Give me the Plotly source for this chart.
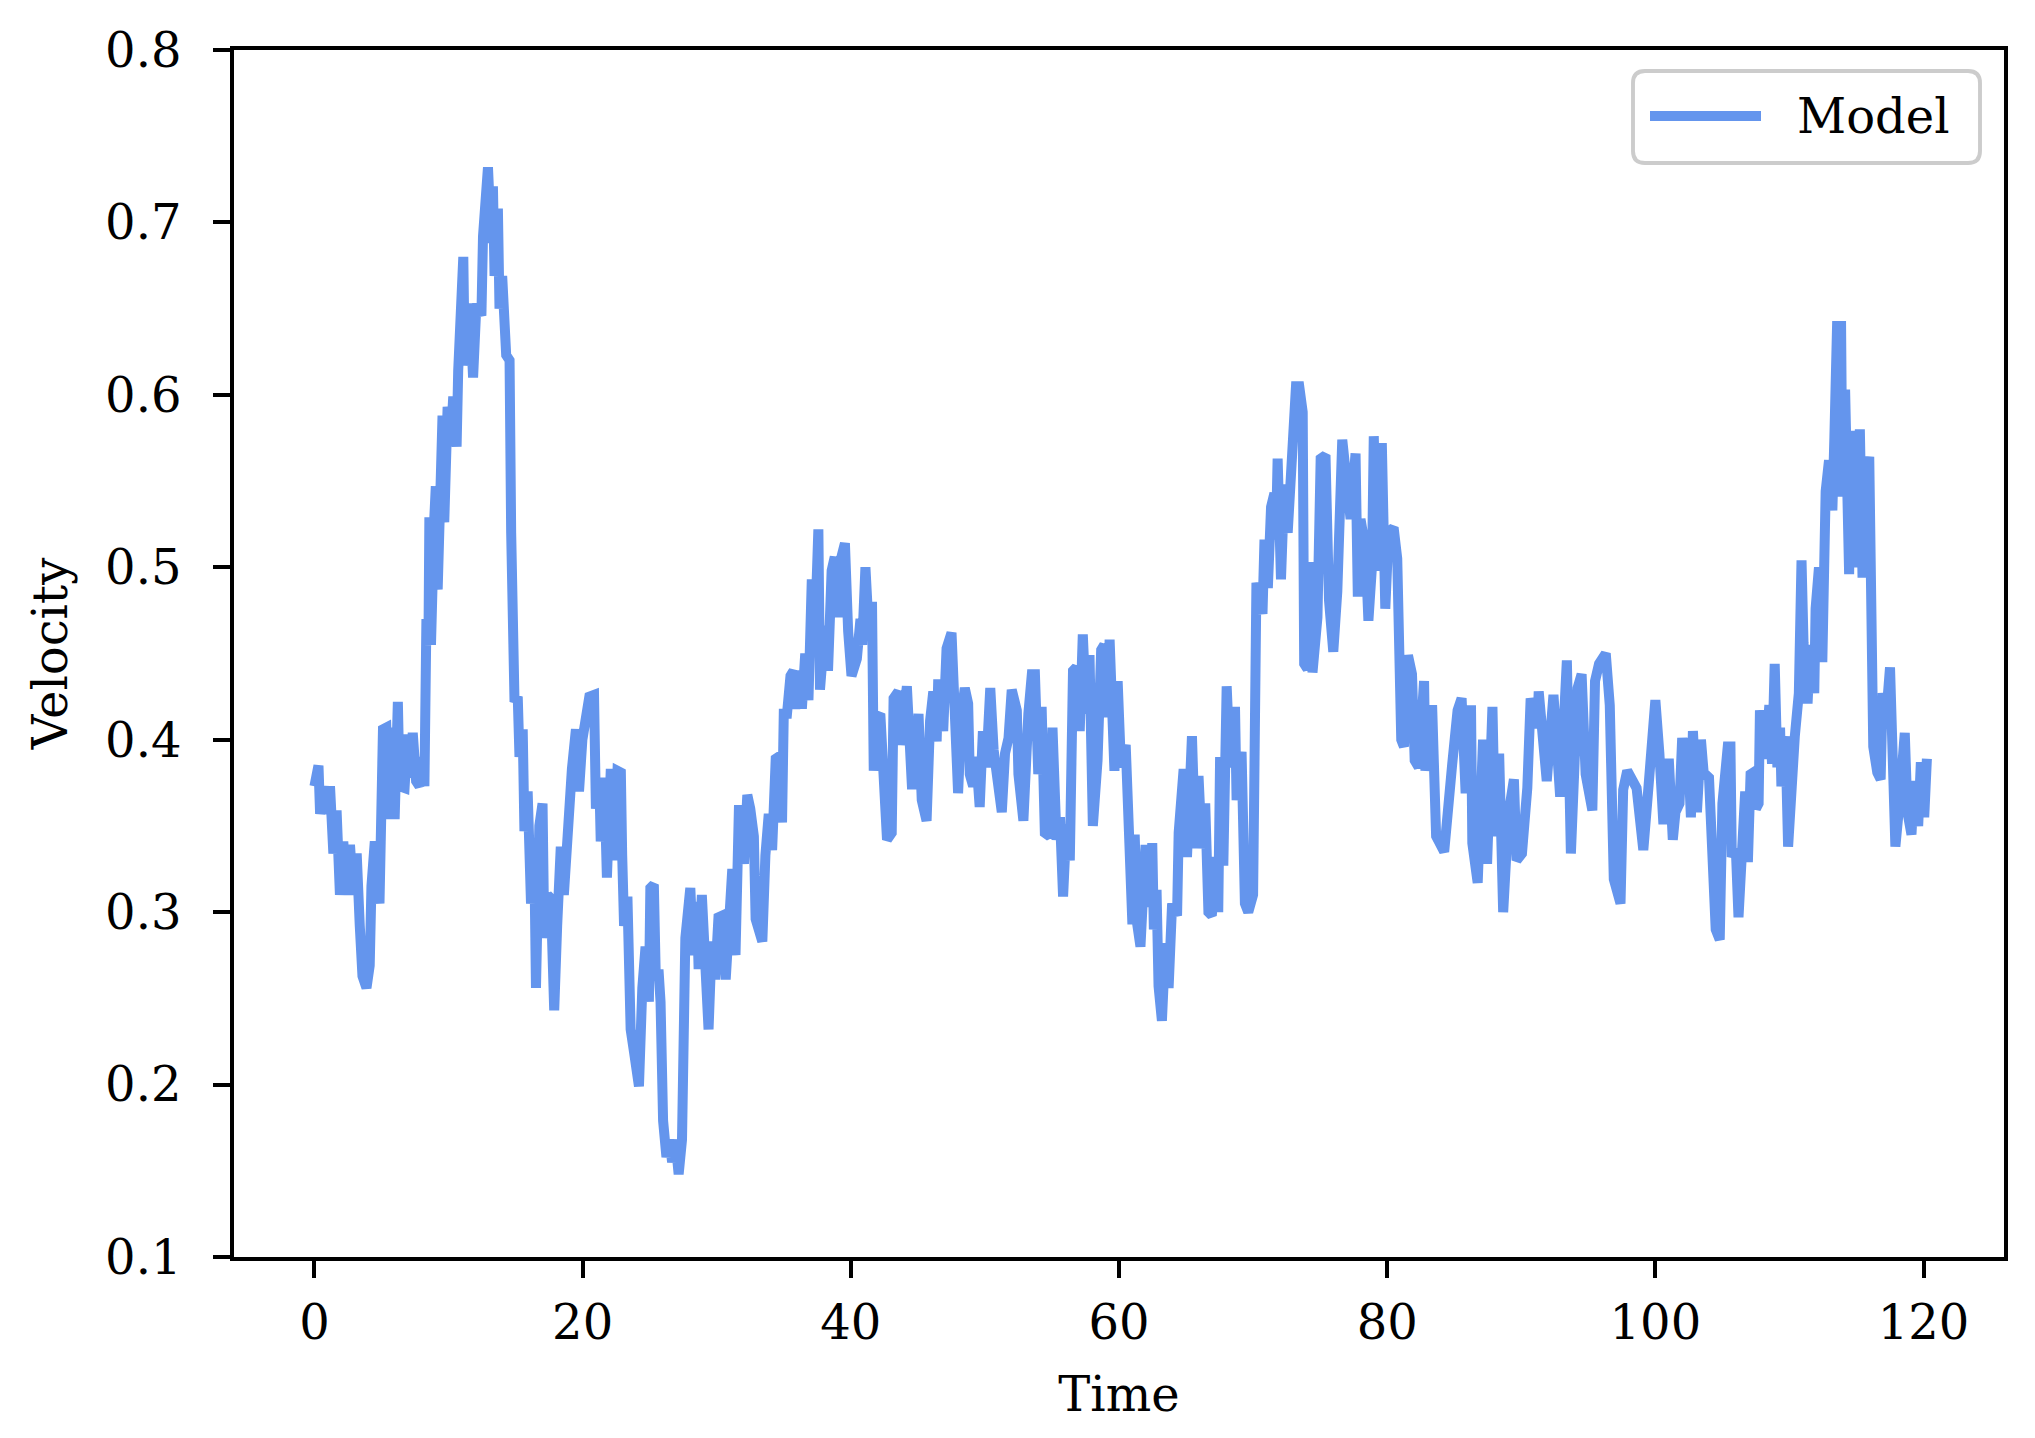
import plotly.graph_objects as go

# ---- data ----
time = [
    0, 0.3, 0.42, 0.79, 0.91, 1.16, 1.41, 1.65, 1.9, 2.15, 2.4, 2.65, 2.89, 3.15, 3.38, 3.58, 3.88, 4.12, 4.25, 4.5,
    4.85, 5.11, 5.36, 5.61, 5.85, 5.98, 6.22, 6.35, 6.72, 6.95, 7.09, 7.33, 7.58, 7.83, 8.07, 8.2, 8.35, 8.5, 8.57, 8.69,
    8.94, 9.05, 9.19, 9.31, 9.55, 9.68, 9.93, 10.2, 10.35, 10.6, 10.72, 11.1, 11.21, 11.58, 11.83, 12.08, 12.45, 12.57, 12.7, 12.94,
    13.19, 13.31, 13.43, 13.68, 13.8, 14.0, 14.3, 14.55, 14.67, 14.92, 15.16, 15.29, 15.53, 15.66, 15.9, 16.15, 16.4, 16.52, 16.77, 17.01,
    17.14, 17.38, 17.63, 17.88, 18.1, 18.37, 18.6, 18.87, 19.2, 19.5, 19.73, 19.98, 20.5, 20.85, 20.99, 21.24, 21.35, 21.61, 21.81, 22.1,
    22.35, 22.6, 22.85, 22.95, 23.09, 23.34, 23.58, 23.83, 24.2, 24.45, 24.69, 24.94, 25.05, 25.31, 25.45, 25.68, 25.81, 26.0, 26.25, 26.5,
    26.67, 26.92, 27.16, 27.41, 27.66, 28.03, 28.25, 28.52, 28.65, 28.89, 29.15, 29.39, 29.63, 29.88, 30.13, 30.42, 30.67, 30.92, 31.16, 31.4,
    31.66, 32.03, 32.28, 32.5, 32.77, 32.9, 33.4, 33.63, 33.88, 34.13, 34.4, 34.6, 34.87, 35.0, 35.24, 35.5, 35.73, 35.86, 36.23, 36.35,
    36.6, 36.84, 36.97, 37.09, 37.34, 37.58, 37.7, 38.08, 38.3, 38.57, 38.8, 39.07, 39.2, 39.56, 39.8, 40.05, 40.45, 40.72, 40.85, 41.09,
    41.34, 41.58, 41.71, 41.95, 42.2, 42.45, 42.7, 43.05, 43.19, 43.55, 43.68, 44.18, 44.55, 44.75, 45.05, 45.29, 45.65, 45.91, 46.15, 46.4,
    46.52, 46.89, 47.14, 47.51, 47.75, 48.0, 48.25, 48.5, 48.75, 48.87, 49.12, 49.35, 49.61, 49.85, 50.1, 50.4, 50.65, 50.9, 51.26, 51.5,
    51.76, 52.0, 52.38, 52.5, 52.87, 53.24, 53.5, 53.73, 53.98, 54.23, 54.47, 54.84, 55.04, 55.34, 55.6, 55.83, 56.08, 56.33, 56.57, 56.82,
    57.07, 57.3, 57.56, 57.8, 58.05, 58.4, 58.67, 58.9, 59.17, 59.3, 59.66, 59.9, 60.15, 60.5, 60.75, 61.0, 61.17, 61.36, 61.6, 61.98,
    62.23, 62.48, 62.6, 62.8, 62.95, 63.2, 63.46, 63.7, 63.96, 64.33, 64.45, 64.82, 65.07, 65.44, 65.7, 65.93, 66.18, 66.43, 66.67, 66.92,
    67.29, 67.4, 67.54, 67.78, 68.03, 68.28, 68.65, 68.77, 69.14, 69.39, 69.64, 70.0, 70.25, 70.7, 70.85, 71.1, 71.34, 71.59, 71.7, 71.83,
    72.08, 72.33, 72.58, 72.8, 72.95, 73.2, 73.44, 73.7, 73.81, 74.06, 74.3, 74.43, 74.8, 75.04, 75.4, 75.66, 75.98, 76.28, 76.65, 77.02,
    77.27, 77.64, 77.81, 78.01, 78.38, 78.6, 78.87, 79.0, 79.24, 79.6, 79.86, 80.1, 80.48, 80.75, 81.05, 81.25, 81.55, 81.85, 82.05, 82.35,
    82.75, 82.85, 83.35, 83.65, 83.95, 84.25, 84.85, 85.25, 85.55, 85.85, 86.25, 86.35, 86.75, 87.15, 87.45, 87.85, 88.05, 88.35, 88.65, 89.05,
    89.45, 89.65, 90.05, 90.45, 90.7, 91.2, 91.3, 91.9, 92.4, 92.9, 93.4, 93.7, 94.2, 94.5, 94.8, 95.3, 95.5, 95.8, 96.3, 96.6,
    96.9, 97.4, 97.6, 97.9, 98.6, 99.1, 99.5, 100.0, 100.3, 100.6, 101.0, 101.3, 101.5, 101.8, 102.0, 102.3, 102.4, 102.65, 102.8, 103.1,
    103.4, 103.6, 104.0, 104.3, 104.5, 104.8, 105.0, 105.4, 105.6, 105.7, 106.0, 106.2, 106.5, 106.7, 106.9, 107.1, 107.3, 107.5, 107.7, 107.8,
    108.2, 108.5, 108.7, 108.9, 109.1, 109.3, 109.4, 109.7, 109.9, 110.2, 110.4, 110.7, 110.9, 111.05, 111.35, 111.55, 111.85, 111.95, 112.2, 112.45,
    112.7, 112.95, 113.2, 113.35, 113.55, 113.85, 113.95, 114.15, 114.45, 114.55, 114.85, 115.05, 115.25, 115.45, 115.65, 115.95, 116.05, 116.25, 116.55, 116.8,
    116.95, 117.2, 117.5, 117.7, 117.9, 118.2, 118.6, 118.8, 119.1, 119.3, 119.6, 119.8, 120.05, 120.25,
]

velocity = [
    0.373, 0.385, 0.357, 0.373, 0.357, 0.373, 0.334, 0.359, 0.31, 0.341, 0.31, 0.339, 0.31, 0.334, 0.292, 0.263, 0.256, 0.269, 0.315, 0.341,
    0.305, 0.406, 0.407, 0.354, 0.407, 0.354, 0.422, 0.373, 0.372, 0.403, 0.378, 0.404, 0.376, 0.373, 0.39, 0.373, 0.47, 0.455, 0.529, 0.455,
    0.529, 0.547, 0.487, 0.549, 0.588, 0.526, 0.593, 0.578, 0.599, 0.57, 0.614, 0.68, 0.617, 0.653, 0.61, 0.653, 0.646, 0.692, 0.715, 0.732,
    0.688, 0.721, 0.669, 0.708, 0.65, 0.669, 0.623, 0.62, 0.52, 0.422, 0.425, 0.39, 0.406, 0.347, 0.37, 0.305, 0.329, 0.256, 0.35, 0.363,
    0.285, 0.31, 0.308, 0.243, 0.292, 0.338, 0.31, 0.357, 0.383, 0.406, 0.37, 0.40, 0.425, 0.426, 0.36, 0.378, 0.341, 0.378, 0.32, 0.383,
    0.33, 0.382, 0.381, 0.333, 0.292, 0.309, 0.232, 0.219, 0.199, 0.256, 0.28, 0.248, 0.314, 0.316, 0.264, 0.264, 0.248, 0.179, 0.158, 0.168,
    0.155, 0.168, 0.148, 0.168, 0.285, 0.314, 0.275, 0.306, 0.267, 0.31, 0.253, 0.232, 0.283, 0.261, 0.297, 0.298, 0.261, 0.306, 0.325, 0.275,
    0.362, 0.328, 0.368, 0.36, 0.344, 0.296, 0.283, 0.333, 0.357, 0.336, 0.389, 0.39, 0.352, 0.415, 0.415, 0.437, 0.44, 0.418, 0.44, 0.418,
    0.45, 0.423, 0.469, 0.493, 0.466, 0.522, 0.429, 0.466, 0.44, 0.498, 0.506, 0.471, 0.503, 0.514, 0.463, 0.437, 0.447, 0.47, 0.455, 0.5,
    0.463, 0.48, 0.382, 0.413, 0.415, 0.386, 0.342, 0.346, 0.424, 0.428, 0.397, 0.431, 0.374, 0.374, 0.415, 0.365, 0.353, 0.411, 0.428, 0.399,
    0.435, 0.405, 0.453, 0.462, 0.415, 0.369, 0.415, 0.43, 0.421, 0.38, 0.373, 0.39, 0.361, 0.405, 0.384, 0.43, 0.394, 0.38, 0.358, 0.392,
    0.401, 0.429, 0.417, 0.38, 0.353, 0.415, 0.438, 0.438, 0.38, 0.419, 0.346, 0.344, 0.407, 0.342, 0.355, 0.309, 0.351, 0.33, 0.44, 0.442,
    0.405, 0.461, 0.415, 0.449, 0.35, 0.388, 0.452, 0.455, 0.413, 0.458, 0.382, 0.434, 0.384, 0.397, 0.32, 0.293, 0.345, 0.293, 0.28, 0.339,
    0.303, 0.34, 0.29, 0.313, 0.257, 0.237, 0.282, 0.256, 0.305, 0.298, 0.346, 0.383, 0.332, 0.402, 0.337, 0.379, 0.337, 0.363, 0.30, 0.298,
    0.332, 0.30, 0.39, 0.327, 0.431, 0.384, 0.419, 0.365, 0.393, 0.305, 0.30, 0.31, 0.491, 0.473, 0.516, 0.488, 0.535, 0.543, 0.516, 0.563,
    0.493, 0.548, 0.52, 0.548, 0.577, 0.605, 0.605, 0.59, 0.444, 0.441, 0.503, 0.439, 0.471, 0.563, 0.565, 0.481, 0.451, 0.486, 0.574, 0.535,
    0.528, 0.566, 0.483, 0.528, 0.511, 0.469, 0.501, 0.576, 0.498, 0.572, 0.476, 0.52, 0.523, 0.505, 0.40, 0.396, 0.449, 0.438, 0.388, 0.384,
    0.434, 0.382, 0.42, 0.344, 0.338, 0.335, 0.386, 0.417, 0.424, 0.369, 0.42, 0.34, 0.317, 0.40, 0.328, 0.419, 0.344, 0.392, 0.30, 0.357,
    0.377, 0.33, 0.334, 0.372, 0.424, 0.407, 0.428, 0.376, 0.426, 0.367, 0.446, 0.334, 0.43, 0.438, 0.38, 0.359, 0.434, 0.444, 0.45, 0.42,
    0.319, 0.305, 0.371, 0.382, 0.372, 0.336, 0.374, 0.423, 0.392, 0.351, 0.389, 0.342, 0.358, 0.363, 0.401, 0.370, 0.401, 0.355, 0.405, 0.358,
    0.40, 0.381, 0.378, 0.306, 0.29, 0.284, 0.363, 0.396, 0.396, 0.332, 0.337, 0.297, 0.35, 0.37, 0.329, 0.38, 0.381, 0.36, 0.363, 0.417,
    0.389, 0.42, 0.386, 0.444, 0.384, 0.407, 0.373, 0.402, 0.338, 0.384, 0.402, 0.427, 0.504, 0.456, 0.421, 0.455, 0.427, 0.476, 0.50, 0.445,
    0.544, 0.562, 0.533, 0.575, 0.64, 0.64, 0.541, 0.603, 0.496, 0.562, 0.579, 0.50, 0.58, 0.494, 0.551, 0.564, 0.494, 0.396, 0.381, 0.377,
    0.427, 0.412, 0.442, 0.396, 0.338, 0.363, 0.404, 0.358, 0.345, 0.376, 0.35, 0.387, 0.355, 0.389,
]

series_name = "Model"
x_ticks = [0, 20, 40, 60, 80, 100, 120]
y_ticks = [0.1, 0.2, 0.3, 0.4, 0.5, 0.6, 0.7, 0.8]
x_label = "Time"
y_label = "Velocity"

n = min(len(time), len(velocity))
time, velocity = time[:n], velocity[:n]

# ---- figure ----
W, H = 2035, 1438
ML, MR, MT, MB = 226, 39, 42, 189
FONT = "DejaVu Serif"
FS = 48
LINE_COLOR = "#6495ED"

fig = go.Figure()
fig.add_trace(go.Scatter(
    x=time, y=velocity, mode="lines", name=series_name,
    line=dict(color=LINE_COLOR, width=10), showlegend=False,
))

axis_common = dict(
    showline=True, linecolor="black", linewidth=3.9, mirror=True,
    ticks="outside", ticklen=17, tickwidth=3.9, tickcolor="black",
    showgrid=False, zeroline=False,
    tickfont=dict(family=FONT, size=FS, color="black"),
    title_font=dict(family=FONT, size=FS, color="black"),
)

fig.update_xaxes(range=[-6, 126], tickvals=x_ticks, ticktext=[str(v) for v in x_ticks],
                 title_text=x_label, title_standoff=30, ticklabelstandoff=3, **axis_common)
fig.update_yaxes(range=[0.1, 0.8], tickvals=y_ticks, ticktext=[f"{v:.1f}" for v in y_ticks],
                 title_text=y_label, title_standoff=23, ticklabelstandoff=22, **axis_common)

# ---- legend drawn in paper space (matplotlib style box with long line sample) ----
pw, ph = W - ML - MR, H - MT - MB
def px(X):
    return (X - ML) / pw
def py(Y):
    return (H - MB - Y) / ph

bx0, bx1, by0, by1 = 1625, 1972, 63, 155
r = 12
rx, ry = r / pw, r / ph
x0, x1, yt, yb = px(bx0), px(bx1), py(by0), py(by1)
path = (f"M {x0+rx},{yt} L {x1-rx},{yt} Q {x1},{yt} {x1},{yt-ry} "
        f"L {x1},{yb+ry} Q {x1},{yb} {x1-rx},{yb} L {x0+rx},{yb} "
        f"Q {x0},{yb} {x0},{yb+ry} L {x0},{yt-ry} Q {x0},{yt} {x0+rx},{yt} Z")
fig.add_shape(type="path", path=path, xref="paper", yref="paper",
              line=dict(color="#cccccc", width=3.9), fillcolor="rgba(255,255,255,0.8)")
ly = py(108)
fig.add_shape(type="line", xref="paper", yref="paper", x0=px(1642), x1=px(1753), y0=ly, y1=ly,
              line=dict(color=LINE_COLOR, width=10))
fig.add_annotation(text=series_name, xref="paper", yref="paper", x=px(1787), y=ly,
                   xanchor="left", yanchor="middle", showarrow=False,
                   font=dict(family=FONT, size=FS, color="black"))

fig.update_layout(
    width=W, height=H, autosize=False,
    margin=dict(l=ML, r=MR, t=MT, b=MB, pad=0),
    paper_bgcolor="white", plot_bgcolor="white",
    font=dict(family=FONT, size=FS, color="black"),
)

fig.write_html("out.html")
